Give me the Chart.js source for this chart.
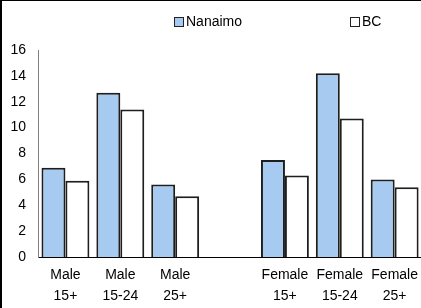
<!DOCTYPE html>
<html>
<head>
<meta charset="utf-8">
<script src="https://cdn.jsdelivr.net/npm/chart.js@4"></script>
<style>
  html, body { margin: 0; padding: 0; background: #fff; overflow: hidden; }
  #frame {
    position: absolute; left: 0; top: 0; width: 426px; height: 308px;
    border-left: 2px solid #000; border-top: 1px solid #000; box-sizing: border-box;
  }
  #chartBox { position: absolute; left: 0; top: 0; width: 424px; height: 307px; }
  #legend {
    position: absolute; top: 13px; left: 0; width: 421px; height: 16px;
    font: 14px Arial, "Liberation Sans", sans-serif; color: #000;
  }
  .item { position: absolute; top: 0; white-space: nowrap; line-height: 16px; }
  .swatch {
    display: inline-block; width: 8px; height: 8px; border: 1px solid #222;
    vertical-align: -1px; margin-right: 2px;
  }
</style>
</head>
<body>
<div id="frame">
  <div id="chartBox"><canvas id="chart"></canvas></div>
</div>
<div id="legend"></div>
<script>
// chart data
const categories = [
  ['Male', '15+'], ['Male', '15-24'], ['Male', '25+'], '',
  ['Female', '15+'], ['Female', '15-24'], ['Female', '25+']
];
const nanaimo = [6.9, 12.7, 5.6, null, 7.5, 14.2, 6.0];
const bc = [5.9, 11.4, 4.7, null, 6.3, 10.7, 5.4];
const seriesNames = ['Nanaimo', 'BC'];
const yMin = 0, yMax = 16, yStep = 2;

const fontFamily = 'Arial, "Liberation Sans", sans-serif';

const ctx = document.getElementById('chart').getContext('2d');
const chart = new Chart(ctx, {
  type: 'bar',
  data: {
    labels: categories,
    datasets: [{
      label: seriesNames[0],
      data: nanaimo,
      backgroundColor: '#a6caf0',
      borderColor: '#1e1e1e',
      borderWidth: 2,
      borderSkipped: 'bottom'
    },
    {
      label: seriesNames[1],
      data: bc,
      backgroundColor: '#ffffff',
      borderColor: '#1e1e1e',
      borderWidth: 2,
      borderSkipped: 'bottom'
    }]
  },
  options: {
    responsive: true,
    maintainAspectRatio: false,
    animation: false,
    layout: { padding: { top: 49, left: 0, right: 0, bottom: 0 } },
    plugins: { legend: { display: false }, tooltip: { enabled: false } },
    datasets: { bar: { categoryPercentage: 0.873, barPercentage: 1.0 } },
    scales: {
      x: {
        grid: { display: false, drawTicks: false },
        border: { display: true, color: '#000', width: 1 },
        ticks: {
          color: '#000', padding: 8, maxRotation: 0, autoSkip: false,
          font: { family: fontFamily, size: 14, lineHeight: 1.5 }
        },
        afterFit: s => { s.height = 51; }
      },
      y: {
        min: yMin, max: yMax,
        grid: { display: false, drawTicks: false },
        border: { display: true, color: '#808080', width: 1 },
        ticks: {
          stepSize: yStep, color: '#000', padding: 12,
          font: { family: fontFamily, size: 14 }
        },
        afterFit: s => { s.width = 36; }
      }
    }
  }
});

// legend drawn as html, built from the chart's own datasets
const legendPos = [174, 350];
const legendEl = document.getElementById('legend');
chart.data.datasets.forEach((ds, i) => {
  const item = document.createElement('div');
  item.className = 'item';
  item.style.left = legendPos[i] + 'px';
  item.innerHTML = '<span class="swatch" style="background:' + ds.backgroundColor + '"></span>' + ds.label;
  legendEl.appendChild(item);
});
</script>
</body>
</html>
